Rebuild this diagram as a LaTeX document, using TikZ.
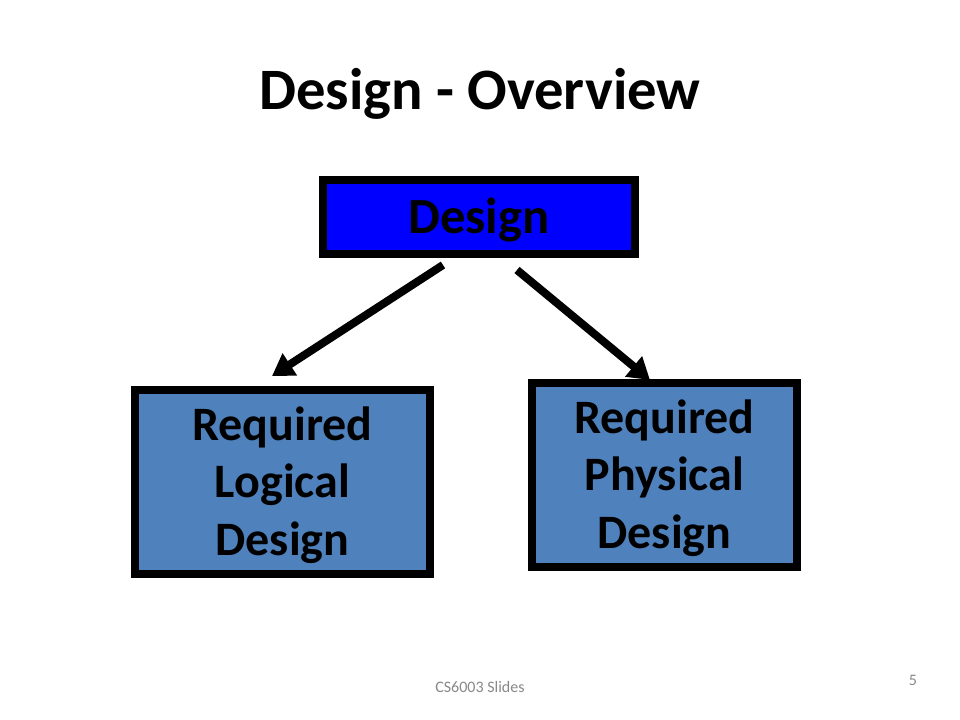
\documentclass[tikz,border=0pt]{standalone}
\usepackage{fontspec}
\setmainfont{Carlito}
\usetikzlibrary{arrows.meta}
\definecolor{boxblue}{HTML}{4F81BD}
\definecolor{topblue}{HTML}{0000FF}
\definecolor{footgray}{HTML}{898989}
\newcommand{\firststrut}{\rule{0pt}{35.4pt}}
\newcommand{\laststrut}{\rule[-12pt]{0pt}{12pt}}
\begin{document}
\begin{tikzpicture}[x=0.75pt,y=-0.75pt,
  box/.style={draw=black,line width=6pt,inner sep=0pt,align=center,font=\bfseries\fontsize{36}{43.2}\selectfont},
  arr/.style={line width=6pt,-{Triangle[length=16pt,width=19pt]}},
  foot/.style={font=\fontsize{12}{14}\selectfont,text=footgray,anchor=base,inner sep=0pt}]
\path[use as bounding box, fill=white] (0,0) rectangle (960,720);
\node[font=\bfseries\fontsize{44}{52}\selectfont, anchor=base, inner sep=0pt] (title) at (480,110) {Design - Overview};
\node[box, fill=topblue, minimum width=234pt, minimum height=55.5pt, text height=25.5pt, text depth=0pt, font=\bfseries\fontsize{38}{45}\selectfont] (design) at (479,217) {Design};
\node[box, fill=boxblue, minimum width=221.25pt, minimum height=138pt] (logical) at (282.5,482) {\firststrut Required\\Logical\\Design\laststrut};
\node[box, fill=boxblue, minimum width=198.75pt, minimum height=138pt] (physical) at (664.5,475) {\firststrut Required\\Physical\\Design\laststrut};
\coordinate (ls) at (443,265);
\coordinate (lt) at (272,376);
\coordinate (rs) at (517,270);
\coordinate (rt) at (650,380);
\draw[arr] (ls) -- (lt);
\draw[arr] (rs) -- (rt);
\node[foot] (footer) at (480,692) {CS6003 Slides};
\node[foot] (pagenum) at (913,685) {5};
\end{tikzpicture}
\end{document}
